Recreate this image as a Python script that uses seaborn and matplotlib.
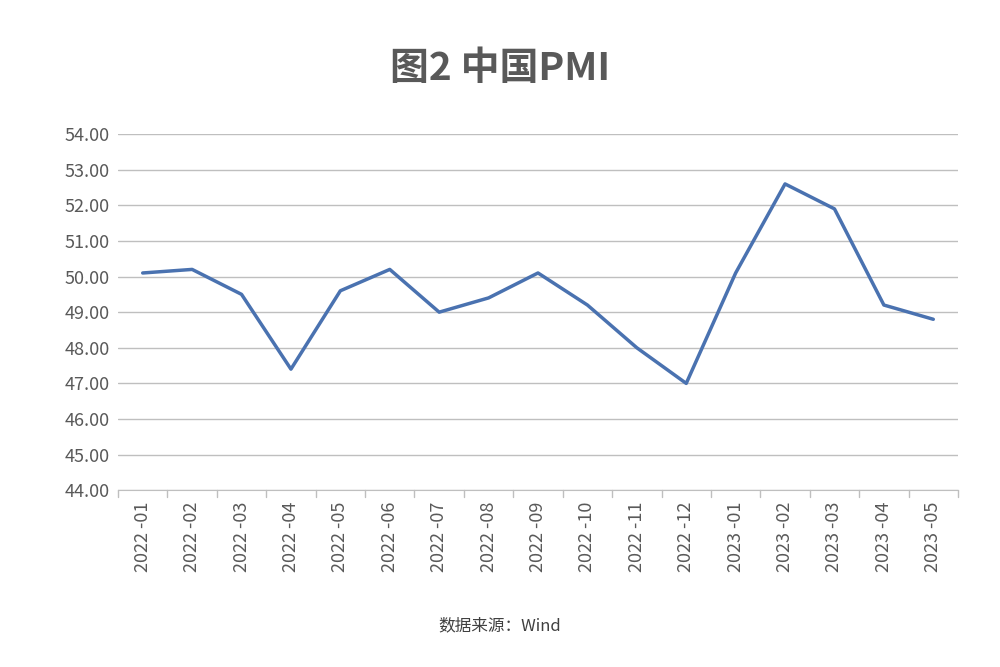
import matplotlib
matplotlib.use('Agg')
import matplotlib.pyplot as plt
import seaborn as sns
import pandas as pd

months = ['2022-01', '2022-02', '2022-03', '2022-04', '2022-05', '2022-06',
          '2022-07', '2022-08', '2022-09', '2022-10', '2022-11', '2022-12',
          '2023-01', '2023-02', '2023-03', '2023-04', '2023-05']
pmi = [50.1, 50.2, 49.5, 47.4, 49.6, 50.2, 49.0, 49.4, 50.1, 49.2,
       48.0, 47.0, 50.1, 52.6, 51.9, 49.2, 48.8]

sns.set_style('white')
plt.rcParams['font.family'] = ['Noto Sans CJK SC', 'DejaVu Sans']

df = pd.DataFrame({'month': months, 'pmi': pmi})

fig = plt.figure(figsize=(10, 6.67), dpi=100)
ax = fig.add_axes([0.118, 0.265, 0.84, 0.534])
sns.lineplot(data=df, x='month', y='pmi', ax=ax, color='#4a72b0', linewidth=2.5, sort=False)

ax.set_ylim(44, 54)
ax.set_yticks(range(44, 55))
ax.set_yticklabels([f'{v:.2f}' for v in range(44, 55)], fontsize=13, color='#595959')
ax.set_xlim(-0.5, len(months) - 0.5)
ax.set_xticks(range(len(months)))
ax.set_xticklabels([m.replace('-', ' -') for m in months], rotation=90, fontsize=13, color='#595959')
ax.tick_params(axis='x', length=0, pad=8)
ax.tick_params(axis='y', length=0, pad=6)
for i in range(len(months) + 1):
    ax.plot([i - 0.5, i - 0.5], [44, 43.8], color='#bfbfbf', lw=1, clip_on=False)
ax.grid(axis='y', color='#bfbfbf', linewidth=1)
ax.set_axisbelow(True)
for s in ['top', 'right', 'left']:
    ax.spines[s].set_visible(False)
ax.spines['bottom'].set_color('#bfbfbf')
ax.set_xlabel('')
ax.set_ylabel('')

fig.text(0.5, 0.898, '图2 中国PMI', ha='center', va='center', fontsize=28,
         fontweight='bold', color='#595959')
fig.text(0.5, 0.062, '数据来源：Wind', ha='center', va='center', fontsize=12, color='#404040')

fig.savefig('out.png', dpi=100, facecolor='white')
